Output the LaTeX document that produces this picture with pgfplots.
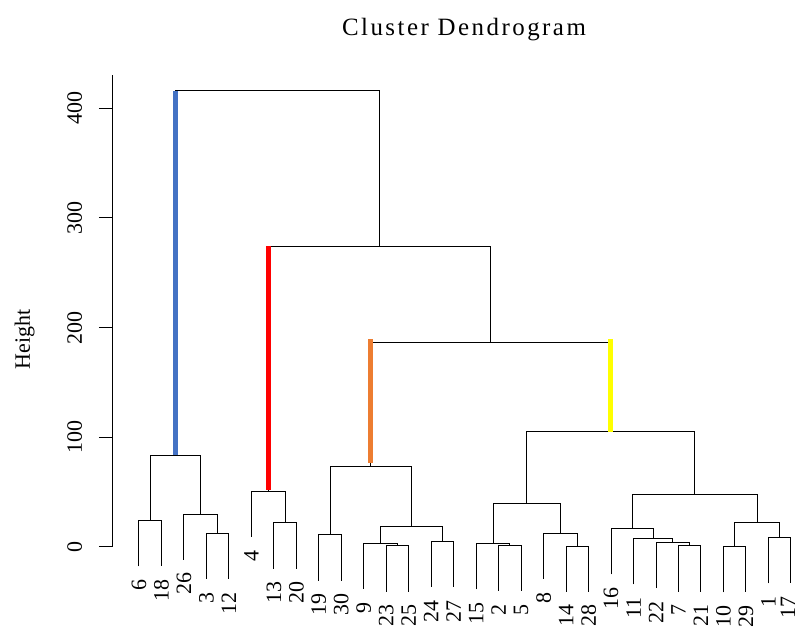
\documentclass[border=0pt]{standalone}
\usepackage{fontspec}
\setmainfont{Liberation Serif}
\newfontfamily\titlefont[LetterSpace=10]{Liberation Serif}
\usepackage{pgfplots}
\pgfplotsset{compat=1.18}
\definecolor{cblue}{HTML}{4472C4}
\definecolor{cred}{HTML}{FF0000}
\definecolor{corange}{HTML}{ED7D31}
\definecolor{cyellow}{HTML}{FFFF00}
\newcommand\lab{\fontsize{22}{22}\selectfont}
\tikzset{leaf/.style={rotate=90, anchor=east, inner sep=0pt, font=\lab}}
\begin{document}
\begin{tikzpicture}
\useasboundingbox (0,0) rectangle (796bp,630bp);
\begin{axis}[
  at={(112bp,83bp)}, anchor=south west,
  scale only axis, width=683.4bp, height=471.7bp,
  xmin=-0.2, xmax=30.2, ymin=0, ymax=430,
  clip=false,
  axis x line=none, axis y line=left,
  axis line style={-, black, line width=1bp},
  xtick=\empty,
  ytick={0,100,200,300,400}, ytick pos=left,
  tick align=outside, major tick length=13bp,
  ytick style={black, line width=1bp},
  /pgf/number format/assume math mode=true,
  yticklabel style={xshift=-17bp, rotate=90, anchor=base, font=\lab, inner sep=0pt},
  ylabel={Height},
  ylabel style={at={(axis description cs:-0.12,0.44)}, anchor=base, font=\lab, inner sep=0pt},
  title={Cluster Dendrogram},
  title style={at={(axis description cs:0.515,1.072)}, anchor=base, font=\titlefont\fontsize{25}{25}\selectfont, inner sep=0pt},
]
\addplot[black, line width=1bp, unbounded coords=jump] table[row sep=\\] {
x y \\
1 -17.6 \\ 1 24 \\ 2 24 \\ 2 -17.6 \\ nan nan \\
4 -29.1 \\ 4 12.5 \\ 5 12.5 \\ 5 -29.1 \\ nan nan \\
3 -11.6 \\ 3 30 \\ 4.5 30 \\ 4.5 12.5 \\ nan nan \\
1.5 24 \\ 1.5 83 \\ 3.75 83 \\ 3.75 30 \\ nan nan \\
7 -19.6 \\ 7 22 \\ 8 22 \\ 8 -19.6 \\ nan nan \\
6 9.2 \\ 6 50.8 \\ 7.5 50.8 \\ 7.5 22 \\ nan nan \\
9 -30.6 \\ 9 11 \\ 10 11 \\ 10 -30.6 \\ nan nan \\
12 -40.6 \\ 12 1 \\ 13 1 \\ 13 -40.6 \\ nan nan \\
11 -38.2 \\ 11 3.4 \\ 12.5 3.4 \\ 12.5 1 \\ nan nan \\
14 -36.4 \\ 14 5.2 \\ 15 5.2 \\ 15 -36.4 \\ nan nan \\
11.75 3.4 \\ 11.75 19 \\ 14.5 19 \\ 14.5 5.2 \\ nan nan \\
9.5 11 \\ 9.5 73 \\ 13.125 73 \\ 13.125 19 \\ nan nan \\
17 -40.1 \\ 17 1.5 \\ 18 1.5 \\ 18 -40.1 \\ nan nan \\
16 -38.6 \\ 16 3 \\ 17.5 3 \\ 17.5 1.5 \\ nan nan \\
20 -40.7 \\ 20 0.9 \\ 21 0.9 \\ 21 -40.7 \\ nan nan \\
19 -29.1 \\ 19 12.5 \\ 20.5 12.5 \\ 20.5 0.9 \\ nan nan \\
16.75 3 \\ 16.75 39.5 \\ 19.75 39.5 \\ 19.75 12.5 \\ nan nan \\
25 -40.6 \\ 25 1 \\ 26 1 \\ 26 -40.6 \\ nan nan \\
24 -37.6 \\ 24 4 \\ 25.5 4 \\ 25.5 1 \\ nan nan \\
23 -34 \\ 23 7.6 \\ 24.75 7.6 \\ 24.75 4 \\ nan nan \\
22 -24.9 \\ 22 16.7 \\ 23.875 16.7 \\ 23.875 7.6 \\ nan nan \\
27 -41.3 \\ 27 0.3 \\ 28 0.3 \\ 28 -41.3 \\ nan nan \\
29 -33.1 \\ 29 8.5 \\ 30 8.5 \\ 30 -33.1 \\ nan nan \\
27.5 0.3 \\ 27.5 22 \\ 29.5 22 \\ 29.5 8.5 \\ nan nan \\
22.9375 16.7 \\ 22.9375 48 \\ 28.5 48 \\ 28.5 22 \\ nan nan \\
18.25 39.5 \\ 18.25 105 \\ 25.71875 105 \\ 25.71875 48 \\ nan nan \\
11.3125 73 \\ 11.3125 186 \\ 21.984375 186 \\ 21.984375 105 \\ nan nan \\
6.75 50.8 \\ 6.75 274 \\ 16.6484375 274 \\ 16.6484375 186 \\ nan nan \\
2.625 83 \\ 2.625 416 \\ 11.69921875 416 \\ 11.69921875 274 \\
};
\addplot[cblue, line width=5bp] coordinates {(2.625,84) (2.625,416)};
\addplot[cred, line width=5bp] coordinates {(6.75,52) (6.75,274)};
\addplot[corange, line width=5bp] coordinates {(11.3125,77) (11.3125,190)};
\addplot[cyellow, line width=5bp] coordinates {(21.984375,105) (21.984375,190)};
\node[leaf] at ([yshift=-13bp]axis cs:1,-17.6) {6};
\node[leaf] at ([yshift=-13bp]axis cs:2,-17.6) {18};
\node[leaf] at ([yshift=-13bp]axis cs:3,-11.6) {26};
\node[leaf] at ([yshift=-13bp]axis cs:4,-29.1) {3};
\node[leaf] at ([yshift=-13bp]axis cs:5,-29.1) {12};
\node[leaf] at ([yshift=-13bp]axis cs:6,9.2) {4};
\node[leaf] at ([yshift=-13bp]axis cs:7,-19.6) {13};
\node[leaf] at ([yshift=-13bp]axis cs:8,-19.6) {20};
\node[leaf] at ([yshift=-13bp]axis cs:9,-30.6) {19};
\node[leaf] at ([yshift=-13bp]axis cs:10,-30.6) {30};
\node[leaf] at ([yshift=-13bp]axis cs:11,-38.2) {9};
\node[leaf] at ([yshift=-13bp]axis cs:12,-40.6) {23};
\node[leaf] at ([yshift=-13bp]axis cs:13,-40.6) {25};
\node[leaf] at ([yshift=-13bp]axis cs:14,-36.4) {24};
\node[leaf] at ([yshift=-13bp]axis cs:15,-36.4) {27};
\node[leaf] at ([yshift=-13bp]axis cs:16,-38.6) {15};
\node[leaf] at ([yshift=-13bp]axis cs:17,-40.1) {2};
\node[leaf] at ([yshift=-13bp]axis cs:18,-40.1) {5};
\node[leaf] at ([yshift=-13bp]axis cs:19,-29.1) {8};
\node[leaf] at ([yshift=-13bp]axis cs:20,-40.7) {14};
\node[leaf] at ([yshift=-13bp]axis cs:21,-40.7) {28};
\node[leaf] at ([yshift=-13bp]axis cs:22,-24.9) {16};
\node[leaf] at ([yshift=-13bp]axis cs:23,-34) {11};
\node[leaf] at ([yshift=-13bp]axis cs:24,-37.6) {22};
\node[leaf] at ([yshift=-13bp]axis cs:25,-40.6) {7};
\node[leaf] at ([yshift=-13bp]axis cs:26,-40.6) {21};
\node[leaf] at ([yshift=-13bp]axis cs:27,-41.3) {10};
\node[leaf] at ([yshift=-13bp]axis cs:28,-41.3) {29};
\node[leaf] at ([yshift=-13bp]axis cs:29,-33.1) {1};
\node[leaf] at ([yshift=-13bp, xshift=-3bp]axis cs:30,-33.1) {17};
\end{axis}
\end{tikzpicture}
\end{document}
